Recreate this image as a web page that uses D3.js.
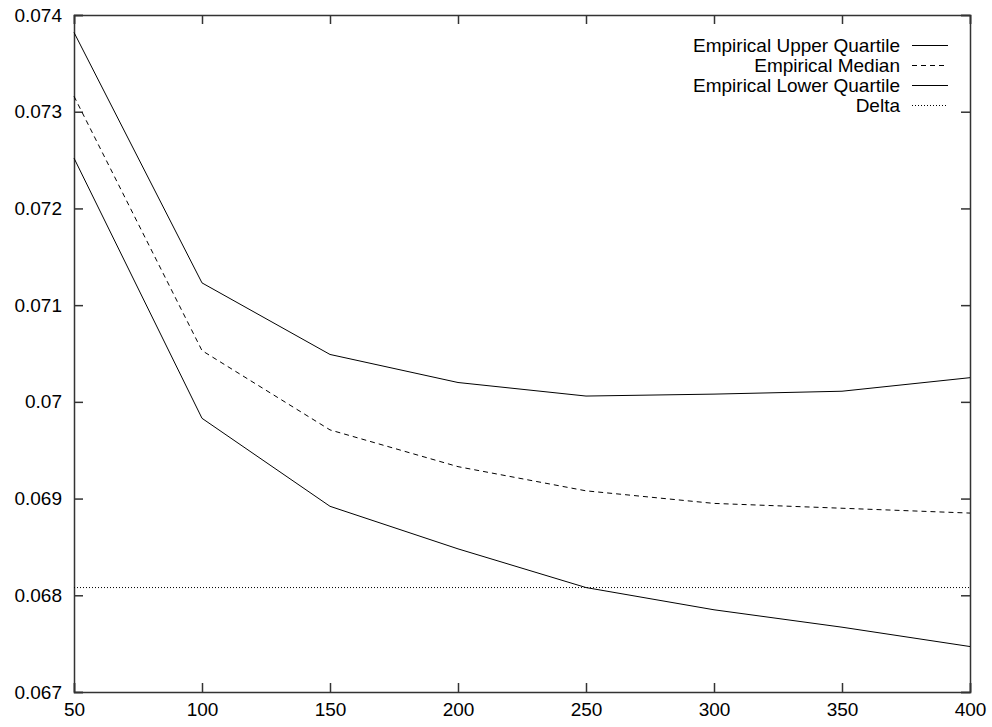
<!DOCTYPE html>
<html><head><meta charset="utf-8">
<script src="https://cdn.jsdelivr.net/npm/d3@7"></script>
<style>body{margin:0;background:#fff}svg{display:block}text{font-family:"Liberation Sans",Arial,sans-serif;fill:#000}</style>
</head><body>
<script>
const xValues = [50, 100, 150, 200, 250, 300, 350, 400];
const upperQuartile = [0.07382, 0.07123, 0.07049, 0.07020, 0.07006, 0.07008, 0.07011, 0.07025];
const median = [0.07316, 0.07053, 0.06971, 0.06933, 0.06908, 0.06895, 0.06890, 0.06885];
const lowerQuartile = [0.07252, 0.06983, 0.06892, 0.06848, 0.06808, 0.06785, 0.06767, 0.06747];
const delta = 0.06808;
const xTicks = [50, 100, 150, 200, 250, 300, 350, 400];
const yTicks = [0.067, 0.068, 0.069, 0.07, 0.071, 0.072, 0.073, 0.074];
const legendLabels = ["Empirical Upper Quartile", "Empirical Median", "Empirical Lower Quartile", "Delta"];

const W = 992, H = 727;
const m = {left: 74, right: 970, top: 15, bottom: 692};
const FS = 19;
const svg = d3.select("body").append("svg").attr("width", W).attr("height", H);
const x = d3.scaleLinear().domain([50, 400]).range([m.left, m.right]);
const y = d3.scaleLinear().domain([0.067, 0.074]).range([m.bottom, m.top]);
const fmtY = d => String(+d.toFixed(3));

const axCol = "#333";
const gB = svg.append("g").attr("transform", `translate(0,${m.bottom})`)
  .call(d3.axisBottom(x).tickValues(xTicks).tickSize(-9).tickPadding(15).tickFormat(d3.format("d")));
const gT = svg.append("g").attr("transform", `translate(0,${m.top})`)
  .call(d3.axisTop(x).tickValues(xTicks).tickSize(-9).tickFormat(""));
const gL = svg.append("g").attr("transform", `translate(${m.left},0)`)
  .call(d3.axisLeft(y).tickValues(yTicks).tickSize(-9).tickPadding(12).tickFormat(fmtY));
const gR = svg.append("g").attr("transform", `translate(${m.right},0)`)
  .call(d3.axisRight(y).tickValues(yTicks).tickSize(-9).tickFormat(""));
[gB, gT, gL, gR].forEach(g => {
  g.select(".domain").attr("stroke", axCol).attr("stroke-width", 1.5);
  g.selectAll(".tick line").attr("stroke", axCol).attr("stroke-width", 1.5);
  g.selectAll(".tick text").attr("font-size", FS).attr("font-family", '"Liberation Sans",Arial,sans-serif').attr("fill", "#000");
});
gB.selectAll(".tick text").attr("dy", "0.45em");

const line = d3.line().x((d, i) => x(xValues[i])).y(d => y(d));
const series = [
  {vals: upperQuartile, dash: null},
  {vals: median, dash: "5,4"},
  {vals: lowerQuartile, dash: null}
];
series.forEach(s => {
  svg.append("path").datum(s.vals).attr("d", line).attr("fill", "none")
    .attr("stroke", "#000").attr("stroke-width", 1)
    .attr("stroke-dasharray", s.dash);
});
svg.append("line").attr("x1", x(50)).attr("x2", x(400)).attr("y1", y(delta)).attr("y2", y(delta))
  .attr("stroke", "#000").attr("stroke-width", 1).attr("stroke-dasharray", "1,2");

const dashes = [null, "5,4", null, "1,2"];
legendLabels.forEach((lab, i) => {
  const yy = 45.5 + i * 20;
  svg.append("text").attr("x", 900).attr("y", yy).attr("text-anchor", "end")
    .attr("dominant-baseline", "central").attr("font-size", FS).text(lab);
  svg.append("line").attr("x1", 912).attr("x2", 948).attr("y1", yy).attr("y2", yy)
    .attr("stroke", "#000").attr("stroke-width", 1).attr("stroke-dasharray", dashes[i]);
});
</script>
</body></html>
